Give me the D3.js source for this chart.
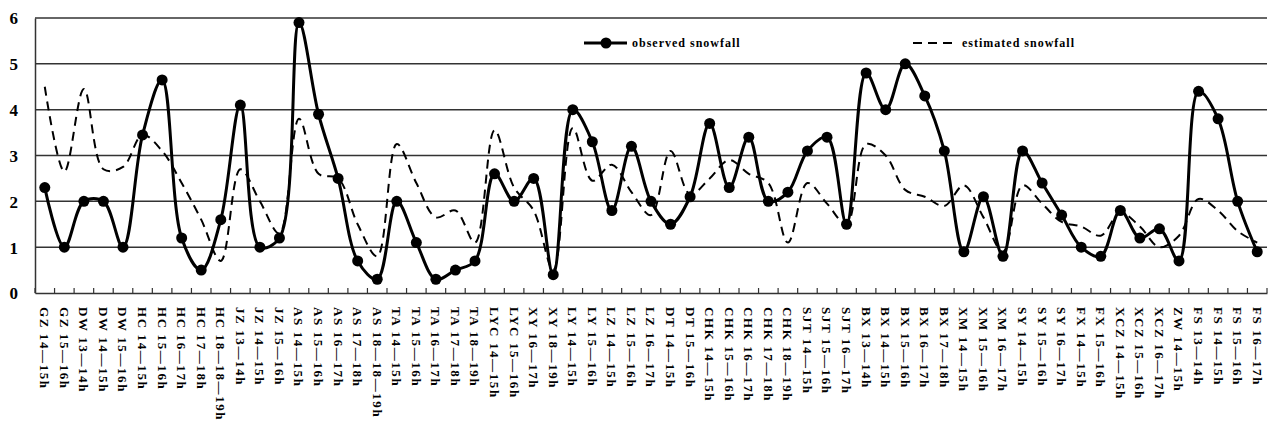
<!DOCTYPE html>
<html>
<head>
<meta charset="utf-8">
<script src="https://cdn.jsdelivr.net/npm/d3@7"></script>
<style>
  body { margin: 0; background: #fff; }
  text { font-family: "Liberation Serif", "DejaVu Serif", serif; font-weight: bold; fill: #000; }
</style>
</head>
<body>
<svg id="chart" width="1270" height="432"></svg>
<script>
// station + hour window
const categories = [
  "GZ 14—15h", "GZ 15—16h", "DW 13—14h", "DW 14—15h", "DW 15—16h",
  "HC 14—15h", "HC 15—16h", "HC 16—17h", "HC 17—18h", "HC 18—18—19h",
  "JZ 13—14h", "JZ 14—15h", "JZ 15—16h",
  "AS 14—15h", "AS 15—16h", "AS 16—17h", "AS 17—18h", "AS 18—18—19h",
  "TA 14—15h", "TA 15—16h", "TA 16—17h", "TA 17—18h", "TA 18—19h",
  "LYC 14—15h", "LYC 15—16h", "XY 16—17h", "XY 18—19h",
  "LY 14—15h", "LY 15—16h", "LZ 14—15h", "LZ 15—16h", "LZ 16—17h",
  "DT 14—15h", "DT 15—16h",
  "CHK 14—15h", "CHK 15—16h", "CHK 16—17h", "CHK 17—18h", "CHK 18—19h",
  "SJT 14—15h", "SJT 15—16h", "SJT 16—17h",
  "BX 13—14h", "BX 14—15h", "BX 15—16h", "BX 16—17h", "BX 17—18h",
  "XM 14—15h", "XM 15—16h", "XM 16—17h",
  "SY 14—15h", "SY 15—16h", "SY 16—17h",
  "FX 14—15h", "FX 15—16h",
  "XCZ 14—15h", "XCZ 15—16h", "XCZ 16—17h",
  "ZW 14—15h",
  "FS 13—14h", "FS 14—15h", "FS 15—16h", "FS 16—17h"
];

const observed = [
  2.3, 1.0, 2.0, 2.0, 1.0,
  3.45, 4.65, 1.2, 0.5, 1.6,
  4.1, 1.0, 1.2,
  5.9, 3.9, 2.5, 0.7, 0.3,
  2.0, 1.1, 0.3, 0.5, 0.7,
  2.6, 2.0, 2.5, 0.4,
  4.0, 3.3, 1.8, 3.2, 2.0,
  1.5, 2.1,
  3.7, 2.3, 3.4, 2.0, 2.2,
  3.1, 3.4, 1.5,
  4.8, 4.0, 5.0, 4.3, 3.1,
  0.9, 2.1, 0.8,
  3.1, 2.4, 1.7,
  1.0, 0.8,
  1.8, 1.2, 1.4,
  0.7,
  4.4, 3.8, 2.0, 0.9
];

const estimated = [
  4.5, 2.65, 4.45, 2.7, 2.75,
  3.45, 3.1, 2.4, 1.6, 0.7,
  2.7, 2.0, 1.3,
  3.8, 2.6, 2.5, 1.5, 0.8,
  3.25, 2.4, 1.65, 1.8, 1.1,
  3.55, 2.3, 1.8, 0.5,
  3.6, 2.45, 2.8, 2.2, 1.7,
  3.1, 2.15,
  2.5, 2.9, 2.6, 2.4, 1.1,
  2.4, 1.95, 1.5,
  3.25, 3.0, 2.25, 2.1, 1.9,
  2.35, 1.65, 0.9,
  2.35, 1.95, 1.55,
  1.45, 1.25,
  1.75, 1.45, 1.0,
  1.25,
  2.05, 1.8, 1.35, 1.1
];

const yTicks = [0, 1, 2, 3, 4, 5, 6];
const seriesNames = ["observed snowfall", "estimated snowfall"];

const margin = {top: 18, right: 3, bottom: 139, left: 35};
const width = 1270 - margin.left - margin.right;
const height = 432 - margin.top - margin.bottom;

const svg = d3.select("#chart")
  .append("g")
  .attr("transform", "translate(" + margin.left + "," + margin.top + ")");

const x = d3.scaleBand().domain(categories).range([0, width]);
const y = d3.scaleLinear().domain([0, 6]).range([height, 0]);

// grid lines
svg.selectAll(".grid")
  .data(yTicks.filter(d => d > 0))
  .enter().append("line")
  .attr("class", "grid")
  .attr("x1", 0).attr("x2", width)
  .attr("y1", d => y(d)).attr("y2", d => y(d))
  .attr("stroke", "#333").attr("stroke-width", 1.5);

// y axis
const yAxis = d3.axisLeft(y).tickValues(yTicks).tickSize(0).tickPadding(17).tickFormat(d3.format("d"));
svg.append("g")
  .call(yAxis)
  .call(g => g.select(".domain").attr("stroke", "#333").attr("stroke-width", 1.5))
  .selectAll("text")
  .style("font-size", "17px")
  .attr("dy", "0.35em");

// x axis with labels rotated
const xAxis = d3.axisBottom(x).tickSize(0).tickPadding(0);
const gx = svg.append("g")
  .attr("transform", "translate(0," + height + ")")
  .call(xAxis);
gx.select(".domain").attr("stroke", "#333").attr("stroke-width", 1.5);
gx.selectAll("text")
  .attr("x", 0).attr("y", 0).attr("dy", "0.35em")
  .attr("transform", "translate(0,14) rotate(90)")
  .style("text-anchor", "start")
  .style("font-size", "13px")
  .style("letter-spacing", "1.6px");

// small ticks between categories
svg.selectAll(".sep")
  .data(d3.range(categories.length + 1))
  .enter().append("line")
  .attr("x1", i => i * x.step()).attr("x2", i => i * x.step())
  .attr("y1", height).attr("y2", height - 5)
  .attr("stroke", "#333").attr("stroke-width", 1.2);

const cx = d => x(d) + x.bandwidth() / 2;

const line = d3.line()
  .x(d => cx(d.cat))
  .y(d => y(d.v))
  .curve(d3.curveCatmullRom.alpha(0.5));

const obsData = categories.map((c, i) => ({cat: c, v: observed[i]}));
const estData = categories.map((c, i) => ({cat: c, v: estimated[i]}));

svg.append("path")
  .datum(estData)
  .attr("d", line)
  .attr("fill", "none")
  .attr("stroke", "#000")
  .attr("stroke-width", 2)
  .attr("stroke-dasharray", "9,6");

svg.append("path")
  .datum(obsData)
  .attr("d", line)
  .attr("fill", "none")
  .attr("stroke", "#000")
  .attr("stroke-width", 3);

svg.selectAll(".dot")
  .data(obsData)
  .enter().append("circle")
  .attr("class", "dot")
  .attr("cx", d => cx(d.cat))
  .attr("cy", d => y(d.v))
  .attr("r", 5.5)
  .attr("fill", "#000");

// legend
const lg = d3.select("#chart").append("g");
lg.append("line")
  .attr("x1", 584).attr("x2", 627).attr("y1", 43).attr("y2", 43)
  .attr("stroke", "#000").attr("stroke-width", 3);
lg.append("circle").attr("cx", 606).attr("cy", 43).attr("r", 5.5).attr("fill", "#000");
lg.append("text").attr("x", 632).attr("y", 47)
  .style("font-size", "12px").style("letter-spacing", "1px")
  .text(seriesNames[0]);

lg.append("line")
  .attr("x1", 913).attr("x2", 958).attr("y1", 43).attr("y2", 43)
  .attr("stroke", "#000").attr("stroke-width", 2)
  .attr("stroke-dasharray", "9,6");
lg.append("text").attr("x", 962).attr("y", 47)
  .style("font-size", "12px").style("letter-spacing", "1px")
  .text(seriesNames[1]);
</script>
</body>
</html>
